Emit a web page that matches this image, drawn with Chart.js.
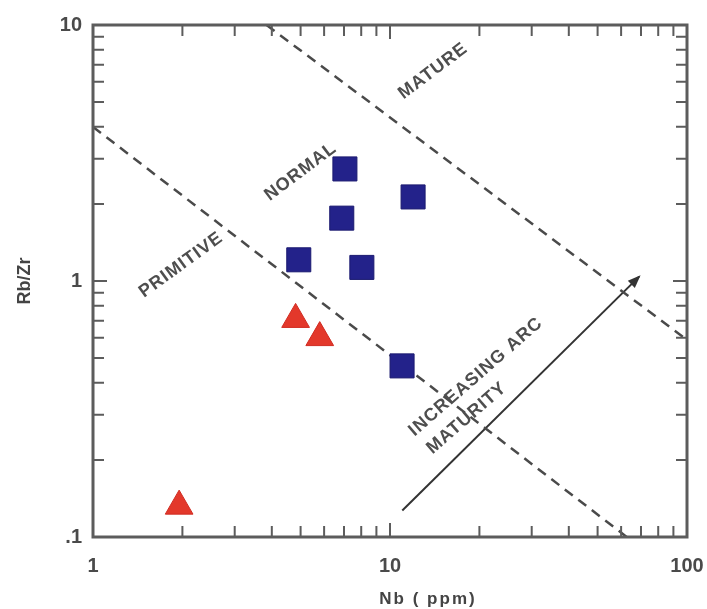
<!DOCTYPE html>
<html>
<head>
<meta charset="utf-8">
<script src="https://cdn.jsdelivr.net/npm/chart.js@4"></script>
<style>
  html, body { margin: 0; padding: 0; background: #fff; }
  canvas { display: block; }
</style>
</head>
<body>
<canvas id="chart" width="707" height="609"></canvas>
<script>
// Nb vs Rb/Zr discrimination plot (log-log), arc maturity fields.
const SQUARE_NB = [7.05, 11.96, 6.88, 4.93, 8.04, 10.98];
const SQUARE_RBZR = [2.74, 2.13, 1.76, 1.21, 1.13, 0.466];
const TRIANGLE_NB = [4.81, 5.80, 1.95];
const TRIANGLE_RBZR = [0.708, 0.601, 0.132];

// Field boundaries (dashed) and the maturity trend arrow, as end points.
const PRIMITIVE_LINE_NB = [1, 62.7];
const PRIMITIVE_LINE_RBZR = [4.0, 0.1];
const MATURE_LINE_NB = [3.84, 100];
const MATURE_LINE_RBZR = [10, 0.589];
const ARROW_NB = [11, 69];
const ARROW_RBZR = [0.127, 1.04];

const X_TICKS = [1, 2, 3, 4, 5, 6, 7, 8, 9, 10, 20, 30, 40, 50, 60, 70, 80, 90, 100];
const Y_TICKS = [0.1, 0.2, 0.3, 0.4, 0.5, 0.6, 0.7, 0.8, 0.9, 1, 2, 3, 4, 5, 6, 7, 8, 9, 10];
const X_LABELS = { 1: "1", 10: "10", 100: "100" };
const Y_LABELS = { 0.1: ".1", 1: "1", 10: "10" };

// Field names, anchored in data coordinates.
const FIELD_LABELS = [
  { text: "MATURE", nb: 13.97, rbzr: 6.61, angle: -37, align: "center" },
  { text: "NORMAL", nb: 5.0, rbzr: 2.67, angle: -37, align: "center" },
  { text: "PRIMITIVE", nb: 1.98, rbzr: 1.155, angle: -36, align: "center" },
  { text: "INCREASING ARC", nb: 11.8, rbzr: 0.255, angle: -41, align: "left" },
  { text: "MATURITY", nb: 13.55, rbzr: 0.217, angle: -41, align: "left" },
];

const INK = "#4a4a4a";
const FONT = "'Liberation Sans', Arial, sans-serif";
Chart.defaults.font.family = FONT;
Chart.defaults.color = "#444";

const pts = (xs, ys) => xs.map((v, i) => ({ x: v, y: ys[i] }));

// Frame with inward ticks on all four sides, placed by the scales.
const frame = {
  id: "frame",
  afterDatasetsDraw(chart) {
    const { ctx, chartArea: a, scales: { x, y } } = chart;
    ctx.save();
    ctx.strokeStyle = "#5c5c5c";
    ctx.lineWidth = 2;
    ctx.beginPath();
    for (const v of X_TICKS) {
      const px = x.getPixelForValue(v);
      const len = X_LABELS[v] ? 14 : 11;
      ctx.moveTo(px, a.bottom); ctx.lineTo(px, a.bottom - len);
      ctx.moveTo(px, a.top); ctx.lineTo(px, a.top + len);
    }
    for (const v of Y_TICKS) {
      const py = y.getPixelForValue(v);
      const len = Y_LABELS[v] ? 14 : 11;
      ctx.moveTo(a.left, py); ctx.lineTo(a.left + len, py);
      ctx.moveTo(a.right, py); ctx.lineTo(a.right - len, py);
    }
    ctx.stroke();
    ctx.lineWidth = 3;
    ctx.strokeRect(a.left, a.top, a.right - a.left, a.bottom - a.top);
    ctx.restore();
  },
};

// Arrow head on the trend line, field names and the x-axis title.
const annotations = {
  id: "annotations",
  afterDatasetsDraw(chart) {
    const { ctx, scales: { x, y } } = chart;
    const arrow = chart.getDatasetMeta(4).data;
    const x0 = arrow[0].x, y0 = arrow[0].y, x1 = arrow[1].x, y1 = arrow[1].y;
    const ang = Math.atan2(y1 - y0, x1 - x0);
    ctx.save();
    ctx.fillStyle = "#333";
    ctx.translate(x1, y1);
    ctx.rotate(ang);
    ctx.beginPath();
    ctx.moveTo(2, 0);
    ctx.lineTo(-11, -5);
    ctx.lineTo(-11, 5);
    ctx.closePath();
    ctx.fill();
    ctx.restore();

    ctx.save();
    ctx.fillStyle = "#4e4e4e";
    ctx.letterSpacing = "1px";
    ctx.textBaseline = "middle";
    ctx.font = `bold 18px ${FONT}`;
    for (const l of FIELD_LABELS) {
      ctx.save();
      ctx.translate(x.getPixelForValue(l.nb), y.getPixelForValue(l.rbzr));
      ctx.rotate(l.angle * Math.PI / 180);
      ctx.textAlign = l.align;
      ctx.fillText(l.text, 0, 0);
      ctx.restore();
    }
    ctx.restore();

    ctx.save();
    ctx.fillStyle = "#444";
    ctx.font = `bold 17px ${FONT}`;
    ctx.letterSpacing = "2px";
    ctx.textAlign = "center";
    ctx.textBaseline = "middle";
    ctx.fillText("Nb ( ppm)", (chart.chartArea.left + chart.chartArea.right) / 2 + 38, 599);
    ctx.restore();
  },
};

new Chart(document.getElementById("chart"), {
  type: "scatter",
  data: {
    datasets: [
      {
        data: pts(SQUARE_NB, SQUARE_RBZR),
        pointStyle: "rect", pointRadius: 17, pointHoverRadius: 17,
        backgroundColor: "#23228a", borderColor: "#1b1a70", borderWidth: 1,
      },
      {
        data: pts(TRIANGLE_NB, TRIANGLE_RBZR),
        pointStyle: "triangle", pointRadius: 16, pointHoverRadius: 16,
        backgroundColor: "#e3382b", borderColor: "#d02a20", borderWidth: 1,
      },
      {
        data: pts(PRIMITIVE_LINE_NB, PRIMITIVE_LINE_RBZR),
        showLine: true, pointRadius: 0, borderColor: INK, borderWidth: 2.5, borderDash: [10, 7],
      },
      {
        data: pts(MATURE_LINE_NB, MATURE_LINE_RBZR),
        showLine: true, pointRadius: 0, borderColor: INK, borderWidth: 2.5, borderDash: [10, 7],
      },
      {
        data: pts(ARROW_NB, ARROW_RBZR),
        showLine: true, pointRadius: 0, borderColor: "#333", borderWidth: 2,
      },
    ],
  },
  options: {
    responsive: false,
    animation: false,
    layout: { padding: { top: 25, right: 20, left: 0, bottom: 0 } },
    plugins: { legend: { display: false }, tooltip: { enabled: false } },
    scales: {
      x: {
        type: "logarithmic", min: 1, max: 100,
        afterBuildTicks: (s) => { s.ticks = X_TICKS.map((v) => ({ value: v })); },
        // fixed axis band; end labels may overhang the plot edges
        afterFit: (s) => { s.height = 72; s.paddingLeft = 0; s.paddingRight = 0; },
        grid: { display: false, drawTicks: false },
        border: { display: false },
        ticks: {
          autoSkip: false, maxRotation: 0, padding: 17,
          font: { size: 20, weight: "bold" },
          color: "#4a4a4a",
          callback: (v) => X_LABELS[v] || "",
        },
      },
      y: {
        type: "logarithmic", min: 0.1, max: 10,
        afterBuildTicks: (s) => { s.ticks = Y_TICKS.map((v) => ({ value: v })); },
        afterFit: (s) => { s.width = 93; s.paddingTop = 0; s.paddingBottom = 0; },
        grid: { display: false, drawTicks: false },
        border: { display: false },
        ticks: {
          autoSkip: false, padding: 11,
          font: { size: 20, weight: "bold" },
          color: "#4a4a4a",
          callback: (v) => Y_LABELS[v] || "",
        },
        title: { display: true, text: "Rb/Zr", font: { size: 18, weight: "bold" }, padding: { top: 14 }, color: "#444" },
      },
    },
  },
  plugins: [frame, annotations],
});
</script>
</body>
</html>
